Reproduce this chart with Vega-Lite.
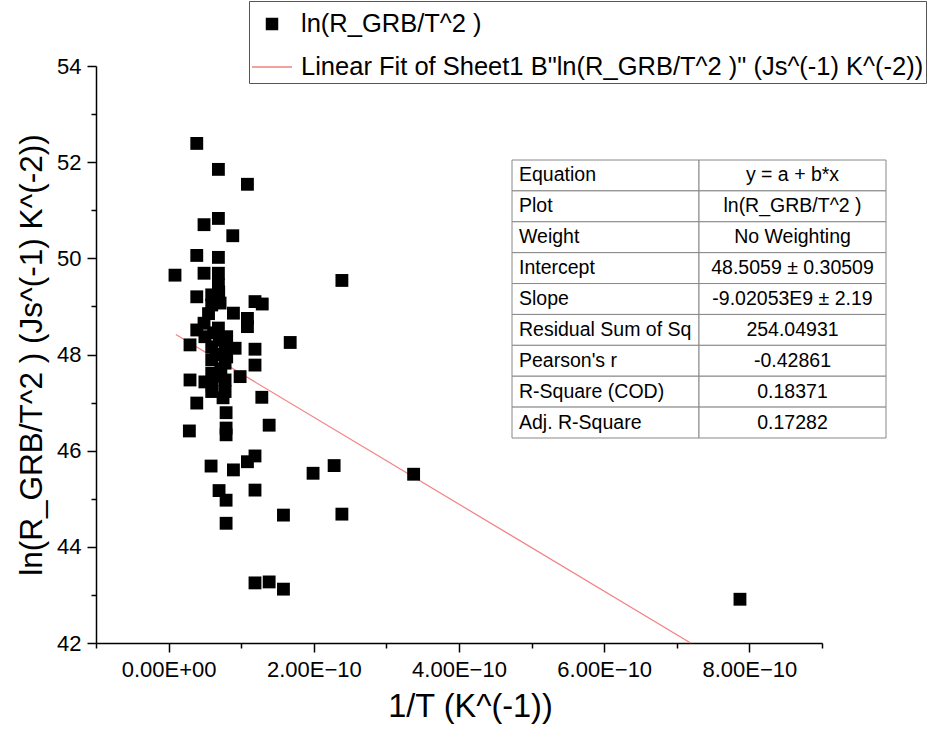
{
  "$schema": "https://vega.github.io/schema/vega-lite/v6.json",
  "width": 726,
  "height": 577,
  "autosize": {"type": "none"},
  "padding": {"left": 96, "top": 66, "right": 112, "bottom": 90},
  "background": "white",
  "config": {"font": "Liberation Sans", "view": {"stroke": null}},
  "datasets": {
    "points": [
      {"x": 3.88e-11, "y": 52.39}, {"x": 6.86e-11, "y": 51.85}, {"x": 1.086e-10, "y": 51.54}, {"x": 6.86e-11, "y": 50.83},
      {"x": 4.88e-11, "y": 50.70}, {"x": 8.84e-11, "y": 50.47}, {"x": 3.88e-11, "y": 50.06}, {"x": 6.86e-11, "y": 50.02},
      {"x": 8.8e-12, "y": 49.65}, {"x": 4.88e-11, "y": 49.69}, {"x": 6.86e-11, "y": 49.69}, {"x": 6.86e-11, "y": 49.45},
      {"x": 3.88e-11, "y": 49.20}, {"x": 5.94e-11, "y": 49.24}, {"x": 5.94e-11, "y": 49.03}, {"x": 7.09e-11, "y": 49.07},
      {"x": 8.93e-11, "y": 48.86}, {"x": 1.19e-10, "y": 49.10}, {"x": 1.29e-10, "y": 49.05}, {"x": 1.086e-10, "y": 48.75},
      {"x": 1.086e-10, "y": 48.58}, {"x": 1.675e-10, "y": 48.25}, {"x": 4.88e-11, "y": 48.65}, {"x": 3.88e-11, "y": 48.51},
      {"x": 6.86e-11, "y": 48.55}, {"x": 8.0e-11, "y": 48.37}, {"x": 2.95e-11, "y": 48.20}, {"x": 5.0e-11, "y": 48.37},
      {"x": 5.94e-11, "y": 48.16}, {"x": 7.78e-11, "y": 48.13}, {"x": 9.16e-11, "y": 48.13}, {"x": 1.19e-10, "y": 48.11},
      {"x": 1.19e-10, "y": 47.78}, {"x": 5.94e-11, "y": 47.89}, {"x": 7.78e-11, "y": 47.82}, {"x": 9.85e-11, "y": 47.54},
      {"x": 2.95e-11, "y": 47.47}, {"x": 5.0e-11, "y": 47.43}, {"x": 5.94e-11, "y": 47.61}, {"x": 7.78e-11, "y": 47.47},
      {"x": 5.94e-11, "y": 47.23}, {"x": 7.78e-11, "y": 47.23}, {"x": 3.88e-11, "y": 46.99}, {"x": 1.284e-10, "y": 47.11},
      {"x": 7.92e-11, "y": 46.79}, {"x": 2.86e-11, "y": 46.41}, {"x": 7.92e-11, "y": 46.47}, {"x": 7.92e-11, "y": 46.33},
      {"x": 1.385e-10, "y": 46.53}, {"x": 5.85e-11, "y": 45.68}, {"x": 8.93e-11, "y": 45.60}, {"x": 1.086e-10, "y": 45.77},
      {"x": 1.19e-10, "y": 45.89}, {"x": 6.95e-11, "y": 45.17}, {"x": 7.92e-11, "y": 44.97}, {"x": 1.19e-10, "y": 45.18},
      {"x": 7.92e-11, "y": 44.49}, {"x": 1.582e-10, "y": 44.66}, {"x": 1.19e-10, "y": 43.25}, {"x": 1.385e-10, "y": 43.27},
      {"x": 1.582e-10, "y": 43.12}, {"x": 2.387e-10, "y": 49.54}, {"x": 1.99e-10, "y": 45.53}, {"x": 2.28e-10, "y": 45.69},
      {"x": 3.375e-10, "y": 45.51}, {"x": 2.387e-10, "y": 44.68}, {"x": 7.87e-10, "y": 42.91},
      {"x": 6.9e-11, "y": 49.3}, {"x": 6.2e-11, "y": 48.45}, {"x": 7.0e-11, "y": 48.3}, {"x": 6.5e-11, "y": 48.0},
      {"x": 7.2e-11, "y": 47.7}, {"x": 6.0e-11, "y": 47.35}, {"x": 7.5e-11, "y": 47.1}, {"x": 5.5e-11, "y": 48.85},
      {"x": 8.0e-11, "y": 47.95}, {"x": 6.5e-11, "y": 47.55}
    ],
    "fit": [
      {"x": 1.0e-11, "y": 48.416},
      {"x": 7.19e-10, "y": 42.0}
    ],
    "table": [
      {"row": 0, "col": "k", "text": "Equation"}, {"row": 0, "col": "v", "text": "y = a + b*x"},
      {"row": 1, "col": "k", "text": "Plot"}, {"row": 1, "col": "v", "text": "ln(R_GRB/T^2 )"},
      {"row": 2, "col": "k", "text": "Weight"}, {"row": 2, "col": "v", "text": "No Weighting"},
      {"row": 3, "col": "k", "text": "Intercept"}, {"row": 3, "col": "v", "text": "48.5059 ± 0.30509"},
      {"row": 4, "col": "k", "text": "Slope"}, {"row": 4, "col": "v", "text": "-9.02053E9 ± 2.19"},
      {"row": 5, "col": "k", "text": "Residual Sum of Sq"}, {"row": 5, "col": "v", "text": "254.04931"},
      {"row": 6, "col": "k", "text": "Pearson's r"}, {"row": 6, "col": "v", "text": "-0.42861"},
      {"row": 7, "col": "k", "text": "R-Square (COD)"}, {"row": 7, "col": "v", "text": "0.18371"},
      {"row": 8, "col": "k", "text": "Adj. R-Square"}, {"row": 8, "col": "v", "text": "0.17282"}
    ]
  },
  "resolve": {"scale": {"x": "independent", "y": "independent"}},
  "layer": [
    {
      "encoding": {
        "x": {
          "field": "x", "type": "quantitative",
          "scale": {"domain": [-1e-10, 9e-10], "nice": false, "zero": false},
          "axis": {
            "orient": "bottom",
            "values": [-1e-10, 0, 1e-10, 2e-10, 3e-10, 4e-10, 5e-10, 6e-10, 7e-10, 8e-10, 9e-10],
            "title": "1/T (K^(-1))",
            "titleFontSize": 32.5, "titleFontWeight": "normal", "titleColor": "black", "titlePadding": 10, "titleX": 374,
            "labelFontSize": 22, "labelColor": "black", "labelPadding": 7, "labelOverlap": false, "labelFlush": false,
            "labelExpr": "round(datum.value*1e10) % 2 != 0 ? '' : (round(datum.value*1e10) == 0 ? '0.00E+00' : format(round(datum.value*1e10), '.2f') + 'E−10')",
            "tickSize": {"condition": {"test": "round(datum.value*1e10) % 2 == 0", "value": 9}, "value": 5},
            "tickColor": "black", "tickWidth": 1.5, "domainColor": "black", "domainWidth": 1.5, "grid": false
          }
        },
        "y": {
          "field": "y", "type": "quantitative",
          "scale": {"domain": [42, 54], "nice": false, "zero": false},
          "axis": {
            "orient": "left",
            "values": [42, 43, 44, 45, 46, 47, 48, 49, 50, 51, 52, 53, 54],
            "title": "ln(R_GRB/T^2 ) (Js^(-1) K^(-2))",
            "titleFontSize": 31.5, "titleFontWeight": "normal", "titleColor": "black", "titlePadding": 8,
            "labelFontSize": 22, "labelColor": "black", "labelPadding": 6, "labelOverlap": false, "labelFlush": false,
            "labelExpr": "datum.value % 2 == 0 ? datum.label : ''",
            "tickSize": {"condition": {"test": "datum.value % 2 == 0", "value": 9}, "value": 5},
            "tickColor": "black", "tickWidth": 1.5, "domainColor": "black", "domainWidth": 1.5, "grid": false
          }
        }
      },
      "layer": [
        {
          "data": {"name": "fit"},
          "mark": {"type": "line", "strokeWidth": 1.2},
          "encoding": {
            "color": {
              "datum": "Linear Fit of Sheet1 B\"ln(R_GRB/T^2 )\" (Js^(-1) K^(-2))",
              "legend": {
                "orient": "none", "legendX": 153, "legendY": -65, "title": null,
                "labelFontSize": 25.5, "labelColor": "black", "labelLimit": 0,
                "strokeColor": "#555", "padding": 2, "rowPadding": 8,
                "symbolSize": 676, "labelOffset": 8,
                "encode": {
                  "symbols": {
                    "update": {
                      "shape": {"signal": "datum.value === 'ln(R_GRB/T^2 )' ? 'square' : 'stroke'"},
                      "size": {"signal": "datum.value === 'ln(R_GRB/T^2 )' ? 120 : 1600"},
                      "fill": {"signal": "datum.value === 'ln(R_GRB/T^2 )' ? 'black' : 'transparent'"},
                      "stroke": {"signal": "datum.value === 'ln(R_GRB/T^2 )' ? 'black' : '#f28080'"},
                      "strokeWidth": {"value": 1.5},
                      "opacity": {"value": 1}
                    }
                  }
                }
              }
            }
          }
        },
        {
          "data": {"name": "points"},
          "mark": {"type": "square", "size": 165, "filled": true, "opacity": 1},
          "encoding": {
            "color": {
              "datum": "ln(R_GRB/T^2 )",
              "scale": {
                "domain": ["ln(R_GRB/T^2 )", "Linear Fit of Sheet1 B\"ln(R_GRB/T^2 )\" (Js^(-1) K^(-2))"],
                "range": ["black", "#f28080"]
              },
              "legend": {
                "orient": "none", "legendX": 153, "legendY": -65, "title": null,
                "labelFontSize": 25.5, "labelColor": "black", "labelLimit": 0,
                "strokeColor": "#555", "padding": 2, "rowPadding": 8,
                "symbolSize": 676, "labelOffset": 8,
                "encode": {
                  "symbols": {
                    "update": {
                      "shape": {"signal": "datum.value === 'ln(R_GRB/T^2 )' ? 'square' : 'stroke'"},
                      "size": {"signal": "datum.value === 'ln(R_GRB/T^2 )' ? 120 : 1600"},
                      "fill": {"signal": "datum.value === 'ln(R_GRB/T^2 )' ? 'black' : 'transparent'"},
                      "stroke": {"signal": "datum.value === 'ln(R_GRB/T^2 )' ? 'black' : '#f28080'"},
                      "strokeWidth": {"value": 1.5},
                      "opacity": {"value": 1}
                    }
                  }
                }
              }
            }
          }
        }
      ]
    },
    {
      "data": {"name": "table"},
      "encoding": {
        "x": {"field": "col", "type": "nominal", "scale": {"domain": ["k", "v"], "range": [416, 790], "paddingInner": 0, "paddingOuter": 0}, "axis": null},
        "y": {"field": "row", "type": "ordinal", "scale": {"range": [94, 372], "paddingInner": 0, "paddingOuter": 0}, "axis": null}
      },
      "layer": [
        {"mark": {"type": "rect", "fill": "white", "stroke": "#888", "strokeWidth": 1}},
        {
          "transform": [{"filter": "datum.col == 'k'"}],
          "mark": {"type": "text", "align": "left", "dx": 7, "fontSize": 19.5, "color": "black", "baseline": "middle"},
          "encoding": {
            "x": {"field": "col", "type": "nominal", "bandPosition": 0, "scale": {"domain": ["k", "v"], "range": [416, 790], "paddingInner": 0, "paddingOuter": 0}, "axis": null},
            "text": {"field": "text"}
          }
        },
        {
          "transform": [{"filter": "datum.col == 'v'"}],
          "mark": {"type": "text", "align": "center", "fontSize": 19.5, "color": "black", "baseline": "middle"},
          "encoding": {"text": {"field": "text"}}
        }
      ]
    }
  ]
}
